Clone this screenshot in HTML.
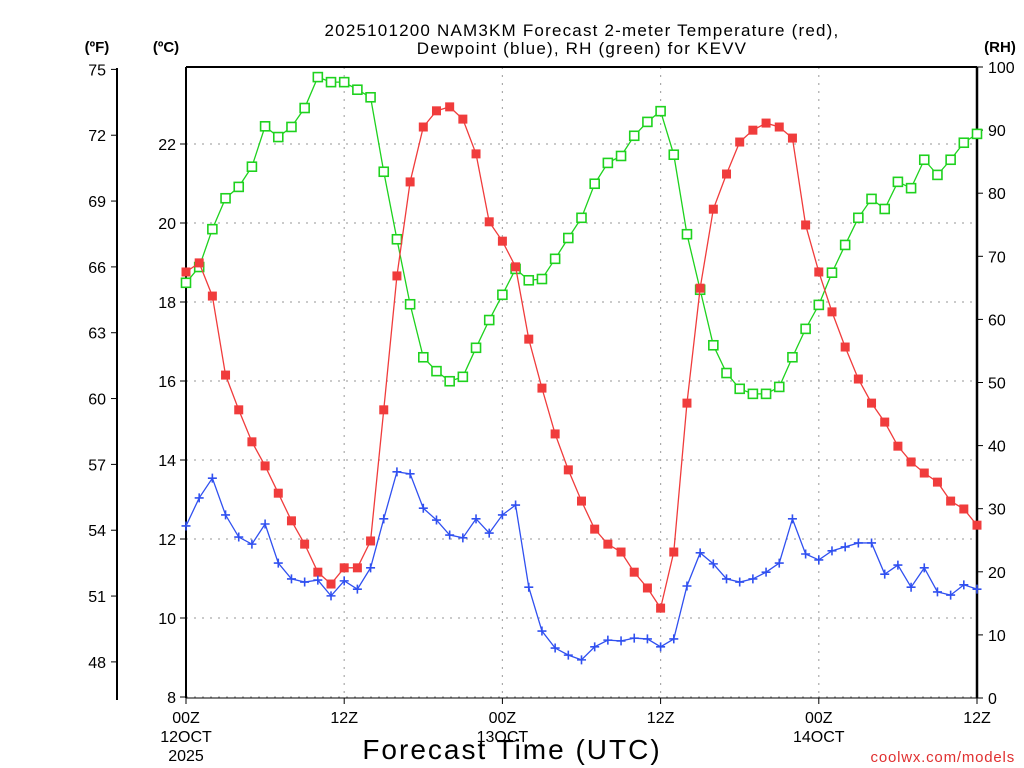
<!DOCTYPE html>
<html><head><meta charset="utf-8"><style>
body{margin:0;background:#fff;}
svg{display:block;font-family:"Liberation Sans",sans-serif;}
</style></head><body>
<svg id="chart" width="1024" height="768" viewBox="0 0 1024 768" xmlns="http://www.w3.org/2000/svg">
<rect width="1024" height="768" fill="#fff"/>
<g font-size="17" text-anchor="middle" fill="#000" letter-spacing="1.2">
<text x="582" y="36">2025101200 NAM3KM Forecast 2-meter Temperature (red),</text>
<text x="582" y="54">Dewpoint (blue), RH (green) for KEVV</text>
</g>
<text x="97" y="52" font-size="15" font-weight="bold" text-anchor="middle">(ºF)</text>
<text x="166" y="52" font-size="15" font-weight="bold" text-anchor="middle">(ºC)</text>
<text x="1000" y="52" font-size="15" font-weight="bold" text-anchor="middle">(RH)</text>
<g id="grid"></g>
<g id="axes"></g>
<g id="series"></g>
<text x="512" y="759" font-size="28" text-anchor="middle" letter-spacing="2">Forecast Time (UTC)</text>
<text x="1015" y="762" font-size="15" fill="#e03030" text-anchor="end" letter-spacing="0.8">coolwx.com/models</text>
</svg>
<script>
const hours = Array.from({length:61},(_,i)=>i);
const tempC = [18.76,18.99,18.15,16.15,15.27,14.46,13.85,13.16,12.46,11.87,11.16,10.86,11.27,11.27,11.95,15.27,18.66,21.04,22.43,22.84,22.94,22.63,21.75,20.03,19.54,18.89,17.06,15.82,14.66,13.75,12.96,12.25,11.87,11.67,11.16,10.76,10.25,11.67,15.44,18.35,20.35,21.24,22.05,22.35,22.53,22.43,22.15,19.95,18.76,17.75,16.86,16.05,15.44,14.96,14.35,13.95,13.67,13.44,12.96,12.76,12.35];
const dewC = [12.33,13.04,13.54,12.61,12.05,11.87,12.38,11.39,10.99,10.91,10.96,10.56,10.94,10.73,11.27,12.51,13.70,13.65,12.78,12.48,12.10,12.03,12.51,12.15,12.61,12.86,10.78,9.67,9.24,9.06,8.94,9.27,9.44,9.42,9.49,9.47,9.27,9.47,10.81,11.65,11.37,10.99,10.91,10.99,11.16,11.39,12.51,11.62,11.47,11.70,11.80,11.90,11.90,11.11,11.34,10.78,11.27,10.66,10.58,10.84,10.73];
const rh = [65.8,68.3,74.3,79.2,81.0,84.2,90.6,88.9,90.5,93.5,98.4,97.6,97.6,96.4,95.2,83.4,72.7,62.4,54.0,51.8,50.2,50.9,55.5,59.9,63.9,68.0,66.2,66.4,69.6,72.9,76.1,81.5,84.8,85.9,89.1,91.3,93.0,86.1,73.5,64.7,55.9,51.5,49.0,48.2,48.2,49.3,54.0,58.5,62.3,67.4,71.8,76.1,79.1,77.5,81.8,80.8,85.3,82.9,85.3,88.0,89.4];
const cTicks = [8,10,12,14,16,18,20,22];
const fTicks = [48,51,54,57,60,63,66,69,72,75];
const rhTicks = [0,10,20,30,40,50,60,70,80,90,100];
const xTickHours = [0,12,24,36,48,60];
const xTickLabels = [["00Z","12OCT","2025"],["12Z"],["00Z","13OCT"],["12Z"],["00Z","14OCT"],["12Z"]];

const NS="http://www.w3.org/2000/svg";
const X0=186,X1=977,Y0=698,YT=67;
const xS=h=>X0+(X1-X0)*h/60;
const cS=c=>697-(c-8)*39.5;
const fS=f=>cS((f-32)*5/9);
const rS=r=>Y0-(Y0-YT)*r/100;
function mk(tag,attrs,parent){const e=document.createElementNS(NS,tag);for(const k in attrs)e.setAttribute(k,attrs[k]);parent.appendChild(e);return e;}
const grid=document.getElementById('grid'),axes=document.getElementById('axes'),series=document.getElementById('series');

cTicks.forEach(c=>{const l=mk('line',{x1:X0,x2:X1,y1:cS(c),y2:cS(c),stroke:'#aaa','stroke-width':1.2,'stroke-dasharray':'2,6'},grid);

});
xTickHours.slice(1,-1).forEach(h=>{const l=mk('line',{x1:xS(h),x2:xS(h),y1:YT,y2:Y0,stroke:'#aaa','stroke-width':1.2,'stroke-dasharray':'2,6'},grid);

});

mk('line',{x1:X0,x2:X0,y1:YT,y2:Y0,stroke:'#000','stroke-width':2},axes);
mk('line',{x1:X1,x2:X1,y1:YT,y2:Y0,stroke:'#000','stroke-width':2.5},axes);
mk('line',{x1:X0,x2:X1,y1:YT,y2:YT,stroke:'#000','stroke-width':2},axes);
mk('line',{x1:X0,x2:X1,y1:Y0,y2:Y0,stroke:'#000','stroke-width':1},axes);
mk('line',{x1:117,x2:117,y1:68,y2:700,stroke:'#000','stroke-width':2},axes);

cTicks.forEach(c=>{mk('line',{x1:180,x2:X0,y1:cS(c),y2:cS(c),stroke:'#000','stroke-width':1},axes);
const t=mk('text',{x:176,y:cS(c)+6,'font-size':16,'text-anchor':'end'},axes);t.textContent=c;

});
fTicks.forEach(f=>{mk('line',{x1:111,x2:117,y1:fS(f),y2:fS(f),stroke:'#000','stroke-width':1},axes);
const t=mk('text',{x:106,y:fS(f)+6,'font-size':16,'text-anchor':'end'},axes);t.textContent=f;

});
rhTicks.forEach(r=>{mk('line',{x1:X1,x2:X1+6,y1:rS(r),y2:rS(r),stroke:'#000','stroke-width':1},axes);
const t=mk('text',{x:988,y:rS(r)+6,'font-size':16,'text-anchor':'start'},axes);t.textContent=r;

});
xTickHours.forEach((h,i)=>{mk('line',{x1:xS(h),x2:xS(h),y1:Y0,y2:Y0+6,stroke:'#000','stroke-width':1},axes);
xTickLabels[i].forEach((s,j)=>{const t=mk('text',{x:xS(h),y:723+j*19,'font-size':16,'text-anchor':'middle'},axes);t.textContent=s;

});});

function line(vals,scale,color,name){
 const p=mk('polyline',{points:vals.map((v,i)=>xS(hours[i])+','+scale(v)).join(' '),fill:'none',stroke:color,'stroke-width':1.3},series);
 
 
}
line(rh,rS,'#1ed21e','rh');
rh.forEach((v,i)=>{const m=mk('rect',{x:xS(hours[i])-4.5,y:rS(v)-4.5,width:9,height:9,fill:'#fff',stroke:'#1ed21e','stroke-width':1.6},series);

});
line(tempC,cS,'#f03c3c','temperature');
tempC.forEach((v,i)=>{const m=mk('rect',{x:xS(hours[i])-4.5,y:cS(v)-4.5,width:9,height:9,fill:'#f03c3c'},series);

});
line(dewC,cS,'#3050f0','dewpoint');
dewC.forEach((v,i)=>{const x=xS(hours[i]),y=cS(v);const g=mk('path',{d:`M${x-4.5},${y}H${x+4.5}M${x},${y-4.5}V${y+4.5}`,stroke:'#3050f0','stroke-width':1.6},series);

});
</script>
</body></html>
